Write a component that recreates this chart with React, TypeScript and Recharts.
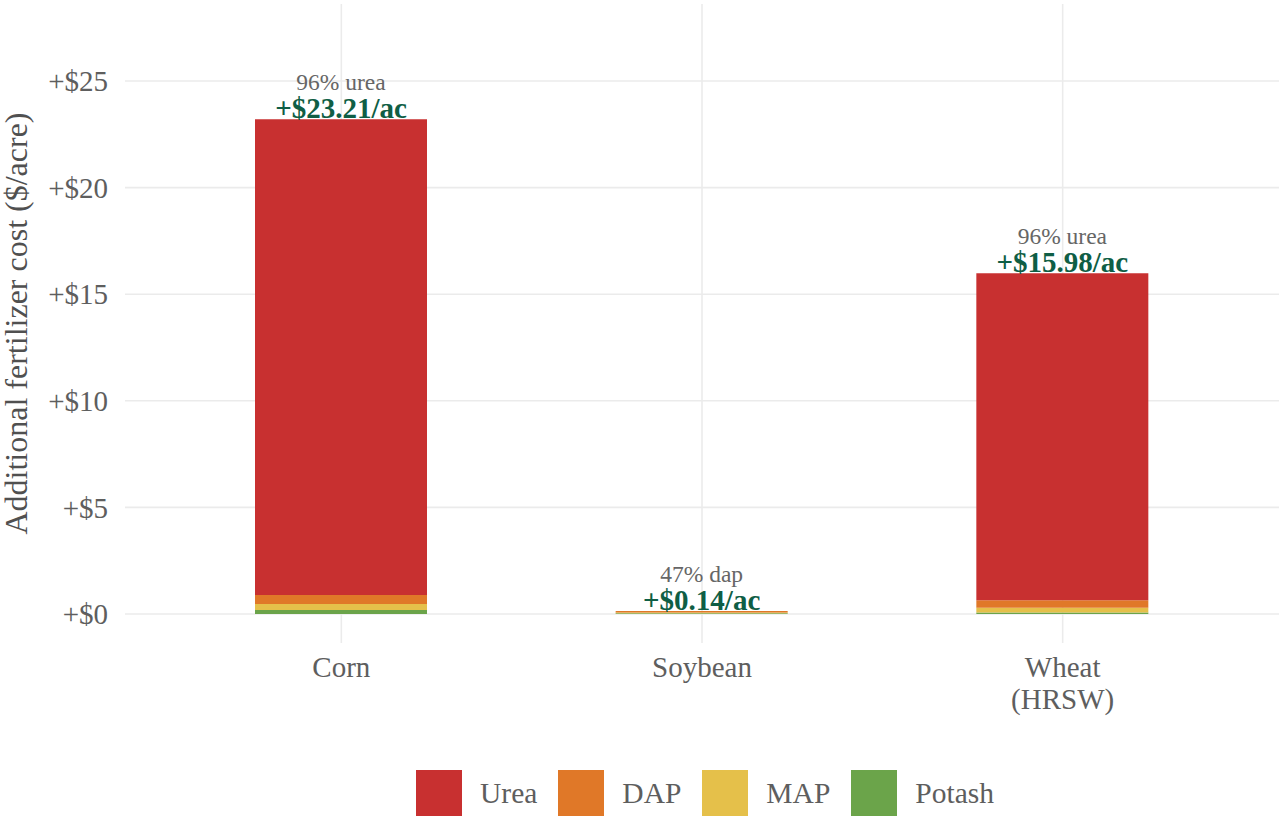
import React from 'react';
import { BarChart, Bar, XAxis, YAxis, CartesianGrid, Legend } from 'recharts';

const categories = ['Corn', 'Soybean', 'Wheat\n(HRSW)'];
const urea = [22.32, 0, 15.33];
const dap = [0.42, 0.066, 0.36];
const mapFert = [0.28, 0.04, 0.22];
const potash = [0.19, 0.034, 0.07];
const yTicks = [0, 5, 10, 15, 20, 25];

const seriesNames = ['Urea', 'DAP', 'MAP', 'Potash'];
const seriesKeys = ['urea', 'dap', 'map', 'potash'];
// stacking order, bottom to top
const stackOrder = ['potash', 'map', 'dap', 'urea'];
const colors: Record<string, string> = {
  urea: '#C83030',
  dap: '#E07828',
  map: '#E5C04A',
  potash: '#6BA44A',
};

const data = categories.map((c, i) => ({
  cat: c,
  urea: urea[i],
  dap: dap[i],
  map: mapFert[i],
  potash: potash[i],
}));

const FONT = '"Liberation Serif", "Times New Roman", serif';
const TXT = '#5E5E5E';

function topSeries(d: any) {
  let top = '';
  stackOrder.forEach((k) => {
    if (d[k] > 0) top = k;
  });
  return top;
}

function cumTo(d: any, key: string) {
  let s = 0;
  for (const k of stackOrder) {
    s += d[k];
    if (k === key) break;
  }
  return s;
}

function makeLabel(key: string) {
  return (props: any) => {
    const { x, y, width, value, payload } = props;
    let d: any = null;
    if (payload && payload.cat !== undefined) {
      d = data.find((row) => row.cat === payload.cat) || null;
    }
    if (!d) {
      const vals: number[] = Array.isArray(value) ? value.map(Number) : [Number(value)];
      d =
        data.find((row: any) =>
          vals.some((v) => Math.abs(v - row[key]) < 1e-6 || Math.abs(v - cumTo(row, key)) < 1e-6)
        ) || null;
    }
    if (!d || topSeries(d) !== key) return <g key={key + 'none' + x} />;
    const total = d.urea + d.dap + d.map + d.potash;
    let maxK = 'urea';
    seriesKeys.forEach((k) => {
      if ((d as any)[k] > (d as any)[maxK]) maxK = k;
    });
    const pct = Math.round(((d as any)[maxK] / total) * 100);
    const cx = x + width / 2;
    return (
      <g key={'lbl' + key + d.cat}>
        <text x={cx} y={y - 29} textAnchor="middle" fontFamily={FONT} fontSize={23.5} fill="#666666">
          {`${pct}% ${maxK}`}
        </text>
        <text x={cx} y={y - 1} textAnchor="middle" fontFamily={FONT} fontSize={29} fontWeight="bold" fill="#0F5E45">
          {`+$${total.toFixed(2)}/ac`}
        </text>
      </g>
    );
  };
}

function CatTick(props: any) {
  const { x, y, payload } = props;
  const lines = String(payload.value).split('\n');
  return (
    <g>
      {lines.map((l, i) => (
        <text key={i} x={x} y={y + 26 + i * 32} textAnchor="middle" fontFamily={FONT} fontSize={29} fill={TXT}>
          {l}
        </text>
      ))}
    </g>
  );
}

function LegendContent() {
  return (
    <div style={{ display: 'flex', alignItems: 'center', height: 46, paddingLeft: 416, fontFamily: FONT }}>
      {seriesKeys.map((k, i) => (
        <div key={k} style={{ display: 'flex', alignItems: 'center', marginRight: 21 }}>
          <div style={{ width: 46, height: 46, background: colors[k] }} />
          <span style={{ marginLeft: 18, fontSize: 29.5, color: TXT, lineHeight: '46px' }}>{seriesNames[i]}</span>
        </div>
      ))}
    </div>
  );
}

function YTitle(props: any) {
  const { viewBox } = props;
  const cy = viewBox.y + viewBox.height / 2;
  return (
    <text
      x={27}
      y={cy}
      transform={`rotate(-90, 27, ${cy})`}
      textAnchor="middle"
      fontFamily={FONT}
      fontSize={32}
      fill="#505050"
    >
      Additional fertilizer cost ($/acre)
    </text>
  );
}

export default function App() {
  return (
    <div style={{ position: 'absolute', left: 0, top: 0, width: 1279, height: 816, background: '#fff' }}>
      <BarChart
        width={1279}
        height={816}
        data={data}
        margin={{ top: 4, right: 0, bottom: 0, left: 0 }}
        barSize={172}
      >
        <CartesianGrid stroke="#EBEBEB" strokeWidth={1.6} syncWithTicks />
        <XAxis
          dataKey="cat"
          axisLine={false}
          tickLine={false}
          padding={{ left: 36, right: 36 }}
          height={127}
          tick={<CatTick />}
          interval={0}
        />
        <YAxis
          type="number"
          domain={[-1.36, 28.61]}
          ticks={yTicks}
          allowDataOverflow
          axisLine={false}
          tickLine={false}
          width={125}
          tickMargin={11}
          tickFormatter={(v: number) => `+$${v}`}
          tick={{ fontFamily: FONT, fontSize: 29, fill: TXT }}
          label={<YTitle />}
        />
        <Legend
          verticalAlign="bottom"
          content={<LegendContent />}
          wrapperStyle={{ left: 0, width: 1279, bottom: 0, height: 46 }}
        />
        <Bar dataKey="potash" stackId="a" fill={colors.potash} isAnimationActive={false} label={makeLabel('potash')} />
        <Bar dataKey="map" stackId="a" fill={colors.map} isAnimationActive={false} label={makeLabel('map')} />
        <Bar dataKey="dap" stackId="a" fill={colors.dap} isAnimationActive={false} label={makeLabel('dap')} />
        <Bar dataKey="urea" stackId="a" fill={colors.urea} isAnimationActive={false} label={makeLabel('urea')} />
      </BarChart>
    </div>
  );
}
